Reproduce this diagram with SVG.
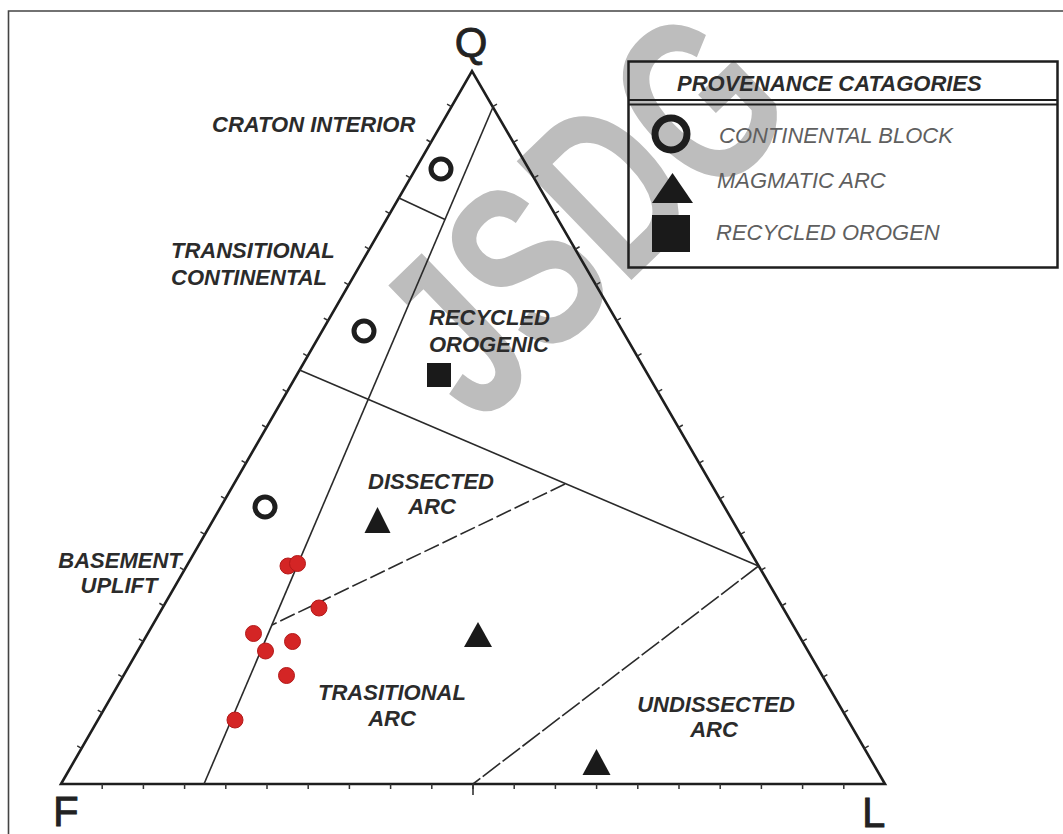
<svg xmlns="http://www.w3.org/2000/svg" width="1063" height="834" viewBox="0 0 1063 834">
<style>
.wm{font-family:"Liberation Sans",Arial,sans-serif;font-weight:bold;font-size:150px;fill:#bdbdbd}
.lbl{font-family:"Liberation Sans",Arial,sans-serif;font-weight:bold;font-style:italic;font-size:22px;fill:#2b2b2b}
.leg{font-family:"Liberation Sans",Arial,sans-serif;font-style:italic;font-size:22px;fill:#5f5f5f}
.vtx{font-family:"Liberation Sans",Arial,sans-serif;font-size:42px;fill:#222;stroke:#222;stroke-width:0.8}
.edge{fill:none;stroke:#1e1e1e;stroke-width:2.6;stroke-linejoin:miter}
.div{fill:none;stroke:#2a2a2a;stroke-width:1.6}
.tick{fill:none;stroke:#333;stroke-width:5}
.ring{fill:none;stroke:#1e1e1e;stroke-width:5}
.mk{fill:#1a1a1a}
.dot{fill:#d42525;stroke:#b31a1a;stroke-width:1}
</style>
<rect x="0" y="0" width="1063" height="834" fill="#ffffff"/>
<path d="M8.5,834 V11 H1063" fill="none" stroke="#444" stroke-width="1.6"/>
<text id="watermark" class="wm" text-anchor="middle" transform="translate(640,272) rotate(-44) scale(1.1,1.6)">JSDG</text>

<g id="triangle">
<polygon class="edge" points="61,784 472,71 885,784"/>
<line class="tick" x1="79" y1="747.75" x2="449.6" y2="104.75" stroke-dasharray="1.5 39.65"/>
<line class="tick" x1="494.43" y1="104.75" x2="866.86" y2="747.75" stroke-dasharray="1.5 39.7"/>
<line class="tick" x1="101.45" y1="786.5" x2="844.55" y2="786.5" stroke-dasharray="1.5 39.7"/>
<line x1="473" y1="784" x2="473" y2="795" stroke="#333" stroke-width="1.6"/>
</g>

<g id="connectors">
<line class="div" x1="493" y1="107" x2="204" y2="784"/>
<line class="div" x1="399" y1="198" x2="445" y2="219.5"/>
<line class="div" x1="299.5" y1="370" x2="758.5" y2="566"/>
<line class="div" x1="565" y1="484" x2="272" y2="625" stroke-dasharray="16 4"/>
<line class="div" x1="758.5" y1="566" x2="473" y2="784" stroke="#4a4a4a" stroke-width="1.3" stroke-dasharray="22 3"/>
</g>

<g id="vertex-labels">
<text class="vtx" x="471" y="57" text-anchor="middle">Q</text>
<text class="vtx" x="53" y="826">F</text>
<text class="vtx" x="862" y="827">L</text>
</g>

<g id="field-labels">
<text class="lbl" x="212" y="132">CRATON INTERIOR</text>
<text class="lbl" x="171" y="258">TRANSITIONAL</text>
<text class="lbl" x="171" y="285">CONTINENTAL</text>
<text class="lbl" x="429" y="325">RECYCLED</text>
<text class="lbl" x="429" y="352">OROGENIC</text>
<text class="lbl" x="431" y="489" text-anchor="middle">DISSECTED</text>
<text class="lbl" x="432" y="514" text-anchor="middle">ARC</text>
<text class="lbl" x="120" y="568" text-anchor="middle">BASEMENT</text>
<text class="lbl" x="119" y="593" text-anchor="middle">UPLIFT</text>
<text class="lbl" x="392" y="700" text-anchor="middle">TRASITIONAL</text>
<text class="lbl" x="392" y="726" text-anchor="middle">ARC</text>
<text class="lbl" x="716" y="712" text-anchor="middle">UNDISSECTED</text>
<text class="lbl" x="714" y="737" text-anchor="middle">ARC</text>
</g>

<g id="data-points">
<circle class="ring" cx="441" cy="169" r="10"/>
<circle class="ring" cx="364" cy="331" r="10"/>
<circle class="ring" cx="265" cy="507" r="10"/>
<rect class="mk" x="427" y="363" width="24" height="24"/>
<polygon class="mk" points="377.5,507 364.5,533 390.5,533"/>
<polygon class="mk" points="478,622 464,647 492,647"/>
<polygon class="mk" points="596.5,749 582.5,775 610.5,775"/>
<circle class="dot" cx="288" cy="566" r="8"/>
<circle class="dot" cx="297.5" cy="563.5" r="8"/>
<circle class="dot" cx="319" cy="608" r="8"/>
<circle class="dot" cx="253.5" cy="633.5" r="8"/>
<circle class="dot" cx="292.5" cy="641.5" r="8"/>
<circle class="dot" cx="265.5" cy="651" r="8"/>
<circle class="dot" cx="286.5" cy="675.5" r="8"/>
<circle class="dot" cx="235" cy="720" r="8"/>
</g>

<g id="legend">
<rect x="628.5" y="61.5" width="429" height="206" fill="none" stroke="#1e1e1e" stroke-width="2.5"/>
<line x1="628.5" y1="100" x2="1057.5" y2="100" stroke="#1e1e1e" stroke-width="2.2"/>
<line x1="628.5" y1="104.5" x2="1057.5" y2="104.5" stroke="#1e1e1e" stroke-width="2.2"/>
<text class="lbl" x="677" y="91">PROVENANCE CATAGORIES</text>
<circle cx="671" cy="134" r="16" fill="none" stroke="#1e1e1e" stroke-width="7"/>
<polygon class="mk" points="672.5,173 652,203 693,203"/>
<rect class="mk" x="652" y="215" width="38" height="37"/>
<text class="leg" x="719" y="143">CONTINENTAL BLOCK</text>
<text class="leg" x="717" y="188">MAGMATIC ARC</text>
<text class="leg" x="716" y="240">RECYCLED OROGEN</text>
</g>
</svg>
